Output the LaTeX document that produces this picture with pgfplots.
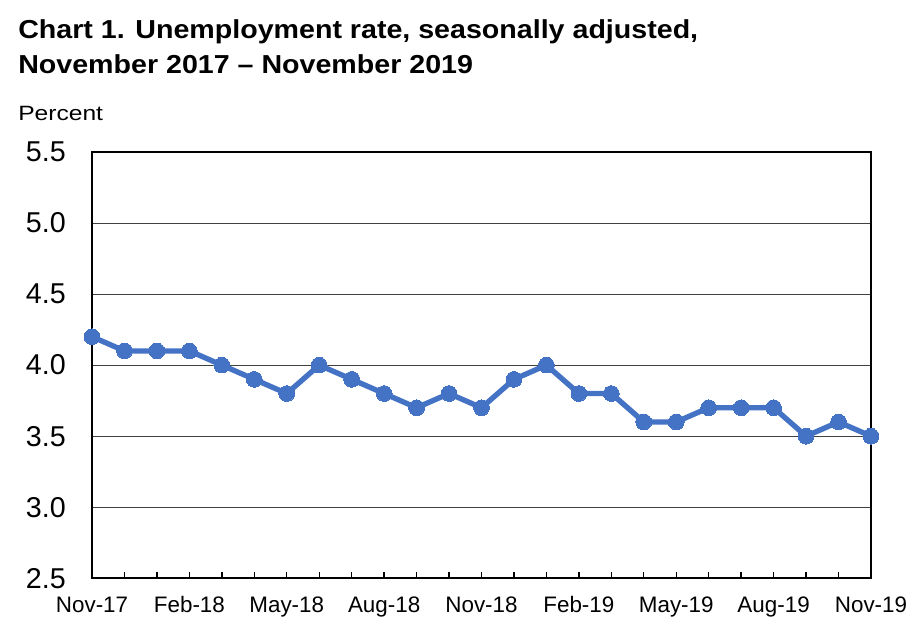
\documentclass[border=0pt]{standalone}
\usepackage{fontspec}
\setmainfont{Liberation Sans}
\usepackage{graphicx}
\usepackage{pgfplots}
\pgfplotsset{compat=1.18}
\definecolor{lineblue}{HTML}{4472C4}

\begin{document}
\begin{tikzpicture}
\begin{axis}[
    width=584pt, height=319.5pt,
    scale only axis,
    clip=false,
    xmin=0, xmax=24,
    ymin=2.5, ymax=5.5,
    xtick={0,...,24},
    xticklabels={Nov-17,,,Feb-18,,,May-18,,,Aug-18,,,Nov-18,,,Feb-19,,,May-19,,,Aug-19,,,Nov-19},
    xtick pos=bottom,
    tick align=inside,
    major tick length=4.5pt,
    xtick style={black, line width=1pt},
    xticklabel style={font=\fontsize{16.8}{18}\selectfont, anchor=base, inner sep=0pt, yshift=-25.5pt},
    ytick={2.5,3,3.5,4,4.5,5,5.5},
    ytick style={draw=none},
    yticklabel style={font=\fontsize{21.5}{24}\selectfont, anchor=east, inner sep=0pt, xshift=-19.5pt,
        /pgf/number format/.cd, fixed, fixed zerofill, precision=1},
    /pgf/number format/assume math mode=true,
    ymajorgrids,
    grid style={black!75, line width=0.75pt},
    axis line style={black, line width=1.1pt},
]

\addplot[color=lineblue, line width=4pt, mark=*, mark size=5.9pt,
    mark options={fill=lineblue, draw=lineblue, line width=0pt}]
coordinates {
    (0,4.2) (1,4.1) (2,4.1) (3,4.1) (4,4.0) (5,3.9) (6,3.8) (7,4.0)
    (8,3.9) (9,3.8) (10,3.7) (11,3.8) (12,3.7) (13,3.9) (14,4.0) (15,3.8)
    (16,3.8) (17,3.6) (18,3.6) (19,3.7) (20,3.7) (21,3.7) (22,3.5) (23,3.6)
    (24,3.5)
};

\node[anchor=base west, inner sep=0pt, font=\fontsize{19.5}{21}\selectfont\bfseries]
    at ([xshift=-55.5pt, yshift=85.5pt]rel axis cs:0,1)
    {\scalebox{1.1}[1]{Chart 1. Unemployment rate, seasonally adjusted,}};
\node[anchor=base west, inner sep=0pt, font=\fontsize{19.5}{21}\selectfont\bfseries]
    at ([xshift=-55.5pt, yshift=59.25pt]rel axis cs:0,1)
    {\scalebox{1.1}[1]{November 2017 -- November 2019}};
\node[anchor=base west, inner sep=0pt, font=\fontsize{15.5}{17}\selectfont]
    at ([xshift=-55.5pt, yshift=24pt]rel axis cs:0,1)
    {\scalebox{1.19}[1]{Percent}};

\path ([xshift=-69pt, yshift=114pt]rel axis cs:0,1)
    rectangle ([xshift=31.5pt, yshift=-38.25pt]rel axis cs:1,0);
\end{axis}
\end{tikzpicture}
\end{document}
